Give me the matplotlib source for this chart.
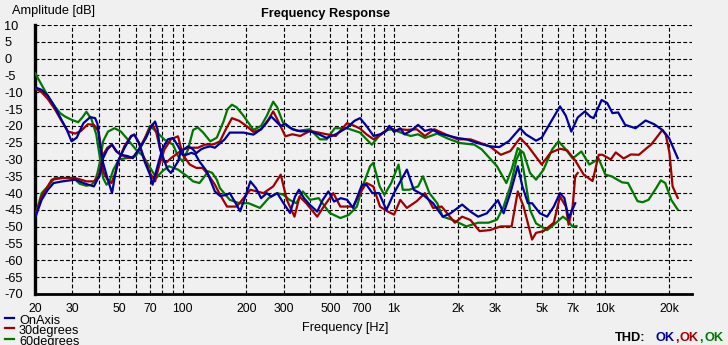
import matplotlib
matplotlib.use("Agg")
import matplotlib.pyplot as plt
from matplotlib.lines import Line2D
from matplotlib.ticker import FixedLocator, NullFormatter

plt.rcParams['font.family'] = ['Liberation Sans', 'DejaVu Sans']

# ---------------- data (frequency Hz, amplitude dB) ----------------
blue_a_f = [20, 21.5, 23, 24.8, 26.7, 28.3, 29.8, 31.5, 33.9, 36.5, 38.5, 39.5, 40.6, 42, 44, 46.3, 47.6, 49.3, 53, 57, 59, 62, 66, 70, 72, 76, 80, 85, 90, 95, 100, 105, 110, 115, 120, 130, 142, 150, 160, 167, 178, 187, 198, 209, 222, 235, 250, 262, 280, 300, 322, 340, 355, 375, 400, 433, 460, 489, 520, 560, 600, 640, 705, 740, 790, 850, 920, 1000, 1040, 1150, 1240, 1370, 1530, 1700, 1850, 2100, 2300, 2500, 2750, 3100, 3300, 3550, 3850, 4050, 4300, 4500, 4900, 5300, 5700, 6100, 6400, 6700, 7200]
blue_a_db = [-8.5, -9.3, -11, -14.3, -18.2, -21.2, -24.6, -23.5, -19.2, -17.4, -17.7, -19.4, -25.6, -31, -35.5, -40, -35.5, -30.6, -26.6, -23.1, -22.6, -25, -30.6, -34.5, -37.5, -32, -27, -24, -23.6, -26, -28.6, -28.5, -28, -28.5, -30.6, -33.5, -39.5, -40.8, -40.6, -40, -43, -45.4, -41, -36.5, -38.5, -41.5, -40, -41, -40, -43, -45.9, -41, -39, -41.5, -43.5, -45.5, -42, -39.5, -42.5, -41.5, -42, -44.4, -37.5, -37.5, -40, -40, -45, -40, -38, -33, -39, -40.5, -43, -47, -46, -43.4, -45.5, -47, -46, -42.1, -46, -40, -32, -38, -43, -43, -46, -47, -44, -40, -41.5, -47.4, -43]

blue_b_f = [20, 21.5, 23, 24.5, 27, 31, 34.6, 38, 40.6, 42, 44, 46.3, 48.5, 51, 55, 58, 62, 67, 71, 74, 76, 78, 82, 85, 88, 92, 95, 98, 106, 111, 116, 122, 127, 135, 142, 150, 158, 167, 180, 194, 216, 235, 250, 262, 275, 290, 306, 330, 360, 400, 440, 480, 530, 600, 650, 690, 740, 800, 860, 920, 950, 1000, 1070, 1120, 1200, 1300, 1400, 1500, 1650, 2000, 2200, 2450, 2840, 3150, 3500, 3950, 4200, 4700, 5000, 5500, 6100, 6500, 6900, 7400, 8000, 8500, 8800, 9600, 10200, 10800, 11500, 12400, 13900, 15500, 17000, 18600, 20000, 22000]
blue_b_db = [-47.5, -42, -39, -37, -36.5, -36, -37.2, -38, -34.5, -29.6, -27, -25.6, -27.5, -28.6, -29, -29.6, -27, -23.6, -20.2, -18.7, -21, -26.6, -30.6, -33, -34, -32, -30.6, -27.6, -26.1, -26.8, -28.1, -27, -26.5, -26.1, -26.5, -25.2, -24, -22, -22, -22, -22.6, -21, -19, -17.2, -18.5, -20, -19.4, -21, -21.6, -21.6, -22.5, -23.6, -22.5, -20.5, -18.5, -17.7, -20, -23, -22.5, -21.5, -20, -21.8, -20.7, -22.5, -21.5, -19.7, -21.5, -21, -22.3, -23.6, -24, -25, -26.1, -26.3, -24.5, -20.7, -22.5, -24.4, -23.5, -19, -14.2, -17, -21.7, -17.5, -15.7, -17.3, -17.7, -12.3, -13.2, -16.2, -16, -19.7, -20.7, -18.4, -19.5, -21.2, -23.6, -29.6]

red_a_f = [20, 21.5, 23, 24.8, 26.7, 28.7, 31, 33, 35.6, 38, 40, 41.3, 42, 44, 46, 48, 50, 53, 57, 59, 62, 66, 70, 74, 78, 82, 88, 95, 100, 108, 116, 124, 132, 142, 150, 162, 180, 209, 241, 268, 291, 311, 338, 357, 384, 433, 465, 516, 557, 640, 690, 740, 797, 858, 929, 1000, 1070, 1150, 1280, 1400, 1530, 1680, 1940, 2100, 2300, 2540, 2840, 3200, 3600, 3850, 4100, 4500, 4700, 5100, 5700, 6100, 6500, 6700, 7000, 7200, 7400]
red_a_db = [-8.8, -10, -12, -15, -18.5, -21.7, -22.3, -21.5, -19.5, -19.7, -21.7, -27.6, -33.5, -36, -37, -34, -30, -26, -23, -22.6, -25, -30, -34, -36.5, -31, -27, -24, -23.1, -28.6, -31.5, -32.5, -32.5, -34.5, -37.5, -40.4, -44, -44, -39, -40, -38, -34.5, -42, -47, -41, -43, -47, -44, -40, -44, -44, -40, -37, -38, -44, -45.4, -46.4, -42, -44.4, -42.4, -40, -44.4, -44, -48.8, -47, -48, -51.3, -51, -49.9, -49.9, -39.5, -44, -53.8, -51.8, -51.3, -48.8, -41, -44, -49.4, -44, -35, -34]

red_b_f = [20, 21.5, 24, 27, 30.9, 33, 35, 38, 40, 41, 42, 44, 46.3, 48.5, 51, 55, 58, 62, 67, 70, 72, 75, 78, 81, 84, 88, 93, 100, 109, 118, 127, 140, 150, 160, 171, 185, 200, 216, 235, 255, 268, 280, 306, 330, 360, 400, 440, 480, 530, 599, 650, 690, 740, 800, 870, 950, 1030, 1070, 1150, 1280, 1400, 1550, 1750, 2000, 2300, 2540, 2840, 3200, 3550, 3950, 4300, 5000, 5500, 6100, 6600, 7200, 7900, 8700, 9300, 9700, 10600, 11200, 12200, 13200, 14400, 15700, 16500, 17900, 18600, 19300, 20100, 20800, 22000]
red_b_db = [-47, -41, -36, -35.5, -35.5, -36, -36.5, -36.5, -35, -32, -28.6, -26.5, -25.6, -27.6, -28.6, -29.5, -29.5, -27, -23, -20.5, -19.5, -22, -26.6, -30.6, -30.8, -29.6, -28.5, -27, -26.5, -26.5, -25.6, -25.5, -24.6, -21, -17.7, -18.5, -20, -21.8, -21, -18, -15.7, -18, -23.1, -22.5, -23, -21.5, -22, -22.5, -23, -19.2, -20, -20.8, -22.5, -24, -22.5, -20.5, -21.5, -21, -21.2, -21, -23, -21, -22.5, -24, -24, -25, -26.1, -28.6, -27.5, -23.6, -26, -31.5, -28, -26.8, -27.3, -30.3, -34.5, -36.4, -28.6, -28.6, -30, -27.9, -29.7, -28.5, -28.6, -26.6, -25.5, -22.6, -21.2, -22.6, -28, -38, -41.4]

green_a_f = [20, 21.5, 23.1, 24.8, 26.3, 27.7, 29.8, 32, 33.5, 35, 37, 39, 40.6, 42, 43.6, 45, 47, 50, 55, 60, 65, 70, 75, 82, 90, 95, 100, 106, 112, 118, 125, 135, 145, 156, 163, 171, 180, 194, 216, 235, 250, 268, 280, 298, 320, 350, 400, 446, 480, 524, 599, 690, 785, 850, 920, 980, 1140, 1200, 1300, 1400, 1600, 1800, 2050, 2400, 2600, 3070, 3400, 3600, 3850, 4100, 4400, 4700, 5100, 5600, 6000, 6500, 7000, 7700, 8400, 9300, 10000, 10700, 12000, 12800, 14200, 15000, 16000, 17400, 18300, 19200, 20500, 22000]
green_a_db = [-4.3, -7.8, -11.3, -14.2, -16.2, -17.2, -18.2, -18.9, -17.5, -15.8, -18, -22.6, -29.6, -35.5, -37.5, -36.5, -33, -30, -29.5, -29, -25, -20, -21.7, -24.1, -25.6, -29, -30.6, -27, -21.2, -20.5, -22, -24.6, -23.5, -18.7, -15, -13.7, -14.5, -17, -21.2, -20, -17, -12.8, -14.5, -19, -20.5, -21.5, -21, -24, -24, -20.7, -20.7, -22, -25.6, -23, -21.3, -21, -22.6, -23, -22.5, -23.6, -22.3, -23.8, -25.1, -25.6, -27, -32, -37, -33, -26.6, -28, -34, -36, -33, -27, -24.6, -27, -29.7, -27.6, -31.5, -29.8, -34.5, -35, -36.8, -37, -42.4, -42.7, -42, -38.5, -36.2, -37, -42, -44.9]

green_b_f = [20, 21.5, 23, 24.8, 28, 30.5, 32.5, 35, 37, 38.4, 39.5, 40.6, 42, 44.3, 47.6, 51, 55, 60, 65, 71, 75, 80, 86, 95, 105, 112, 120, 127, 132, 138, 145, 150, 167, 185, 205, 232, 255, 280, 300, 320, 345, 370, 400, 440, 496, 557, 610, 667, 710, 770, 797, 830, 855, 900, 970, 1050, 1100, 1180, 1300, 1370, 1470, 1600, 1700, 1900, 2200, 2500, 2800, 3070, 3300, 3550, 3800, 3950, 4150, 4400, 4700, 5300, 5800, 6300, 6600, 7000, 7300]
green_b_db = [-47, -40, -38, -35.5, -35.5, -35.5, -37.2, -37.8, -37.5, -36.5, -34, -30.6, -24.6, -21.7, -20.7, -21.7, -24.1, -27, -29, -33, -35.5, -33.5, -32, -33, -35, -36.5, -37, -35, -33.5, -34, -36, -38.5, -42, -43, -43, -44.4, -41.5, -40, -40.5, -42, -43, -39.5, -42, -41.5, -45.9, -47.4, -46.5, -44, -38, -32, -31, -35, -38, -40.5, -37, -31.5, -39, -39, -38, -35, -40, -43, -47, -48, -49.9, -48.8, -48.8, -47.9, -44, -38, -30, -27.6, -35, -45, -49, -51, -49, -47, -48, -50, -49.8]

series_names = ["OnAxis", "30degrees", "60degrees"]
series_colors = ["#0000A0", "#A00000", "#007800"]

y_ticks = list(range(10, -75, -5))
x_major = [20, 30, 50, 70, 100, 200, 300, 500, 700, 1000, 2000, 3000, 5000, 7000, 10000, 20000]
x_major_labels = ["20", "30", "50", "70", "100", "200", "300", "500", "700", "1k", "2k", "3k", "5k", "7k", "10k", "20k"]
x_minor = [40, 60, 80, 90, 400, 600, 800, 900, 4000, 6000, 8000, 9000]

# ---------------- figure ----------------
W, H = 728, 345
bg = "#F0F0F0"
fig = plt.figure(figsize=(W / 100, H / 100), dpi=100, facecolor=bg)
ax = fig.add_axes([35 / W, 1 - 294 / H, (692 - 35) / W, (294 - 25) / H], facecolor=bg)

ax.set_xscale("log")
ax.set_xlim(20, 25700)
ax.set_ylim(-70, 10)

grid_kw = dict(color="black", linewidth=0.8, linestyle=(0, (3.5, 2)))
ax.xaxis.set_major_locator(FixedLocator(x_major))
ax.xaxis.set_minor_locator(FixedLocator(x_minor))
ax.set_xticklabels(x_major_labels)
ax.xaxis.set_minor_formatter(NullFormatter())
ax.set_yticks(y_ticks)
ax.set_yticklabels([str(v) for v in y_ticks])
ax.grid(True, which="both", axis="x", **grid_kw)
ax.grid(True, which="major", axis="y", **grid_kw)
ax.set_axisbelow(True)

ax.tick_params(axis="x", which="both", length=0, pad=6.5, labelsize=8.8, colors="black")
ax.tick_params(axis="y", length=0, pad=22.3, labelsize=9.2, colors="black")
for lbl in ax.get_yticklabels():
    lbl.set_horizontalalignment("left")

for side in ["top", "right"]:
    ax.spines[side].set_visible(False)
ax.spines["left"].set_linewidth(2.4)
ax.spines["bottom"].set_linewidth(2.0)

lw = 1.6
ax.plot(green_a_f, green_a_db, color=series_colors[2], lw=lw, zorder=3)
ax.plot(green_b_f, green_b_db, color=series_colors[2], lw=lw, zorder=3)
ax.plot(red_a_f, red_a_db, color=series_colors[1], lw=lw, zorder=4)
ax.plot(red_b_f, red_b_db, color=series_colors[1], lw=lw, zorder=4)
ax.plot(blue_a_f, blue_a_db, color=series_colors[0], lw=lw, zorder=5)
ax.plot(blue_b_f, blue_b_db, color=series_colors[0], lw=lw, zorder=5)

# texts
fig.text(12 / W, 1 - 11 / H, "Amplitude [dB]", fontsize=9.2, va="center", ha="left")
fig.text(326 / W, 1 - 14 / H, "Frequency Response", fontsize=9.2, fontweight="bold", va="center", ha="center")
fig.text(345 / W, 1 - 328 / H, "Frequency [Hz]", fontsize=9.2, va="center", ha="center")

# legend
for i, (name, col) in enumerate(zip(series_names, series_colors)):
    yl = 317.5 + i * 10.8
    fig.add_artist(Line2D([5 / W, 14 / W], [1 - yl / H, 1 - yl / H], color=col, lw=1.6))
    fig.text(19 / W, 1 - (yl + 3) / H, name, fontsize=9.2, va="center", ha="left")

# THD
ty = 1 - 338 / H
fig.text(615 / W, ty, "THD:", fontsize=9.2, fontweight="bold", va="center", ha="left", color="black")
fig.text(656 / W, ty, "OK", fontsize=9.2, fontweight="bold", va="center", ha="left", color=series_colors[0])
fig.text(675 / W, ty, ",", fontsize=9.2, fontweight="bold", va="center", ha="left", color=series_colors[1])
fig.text(679.5 / W, ty, "OK", fontsize=9.2, fontweight="bold", va="center", ha="left", color=series_colors[1])
fig.text(699 / W, ty, ",", fontsize=9.2, fontweight="bold", va="center", ha="left", color=series_colors[2])
fig.text(704.5 / W, ty, "OK", fontsize=9.2, fontweight="bold", va="center", ha="left", color=series_colors[2])

fig.savefig("out.png", dpi=100, facecolor=bg)
